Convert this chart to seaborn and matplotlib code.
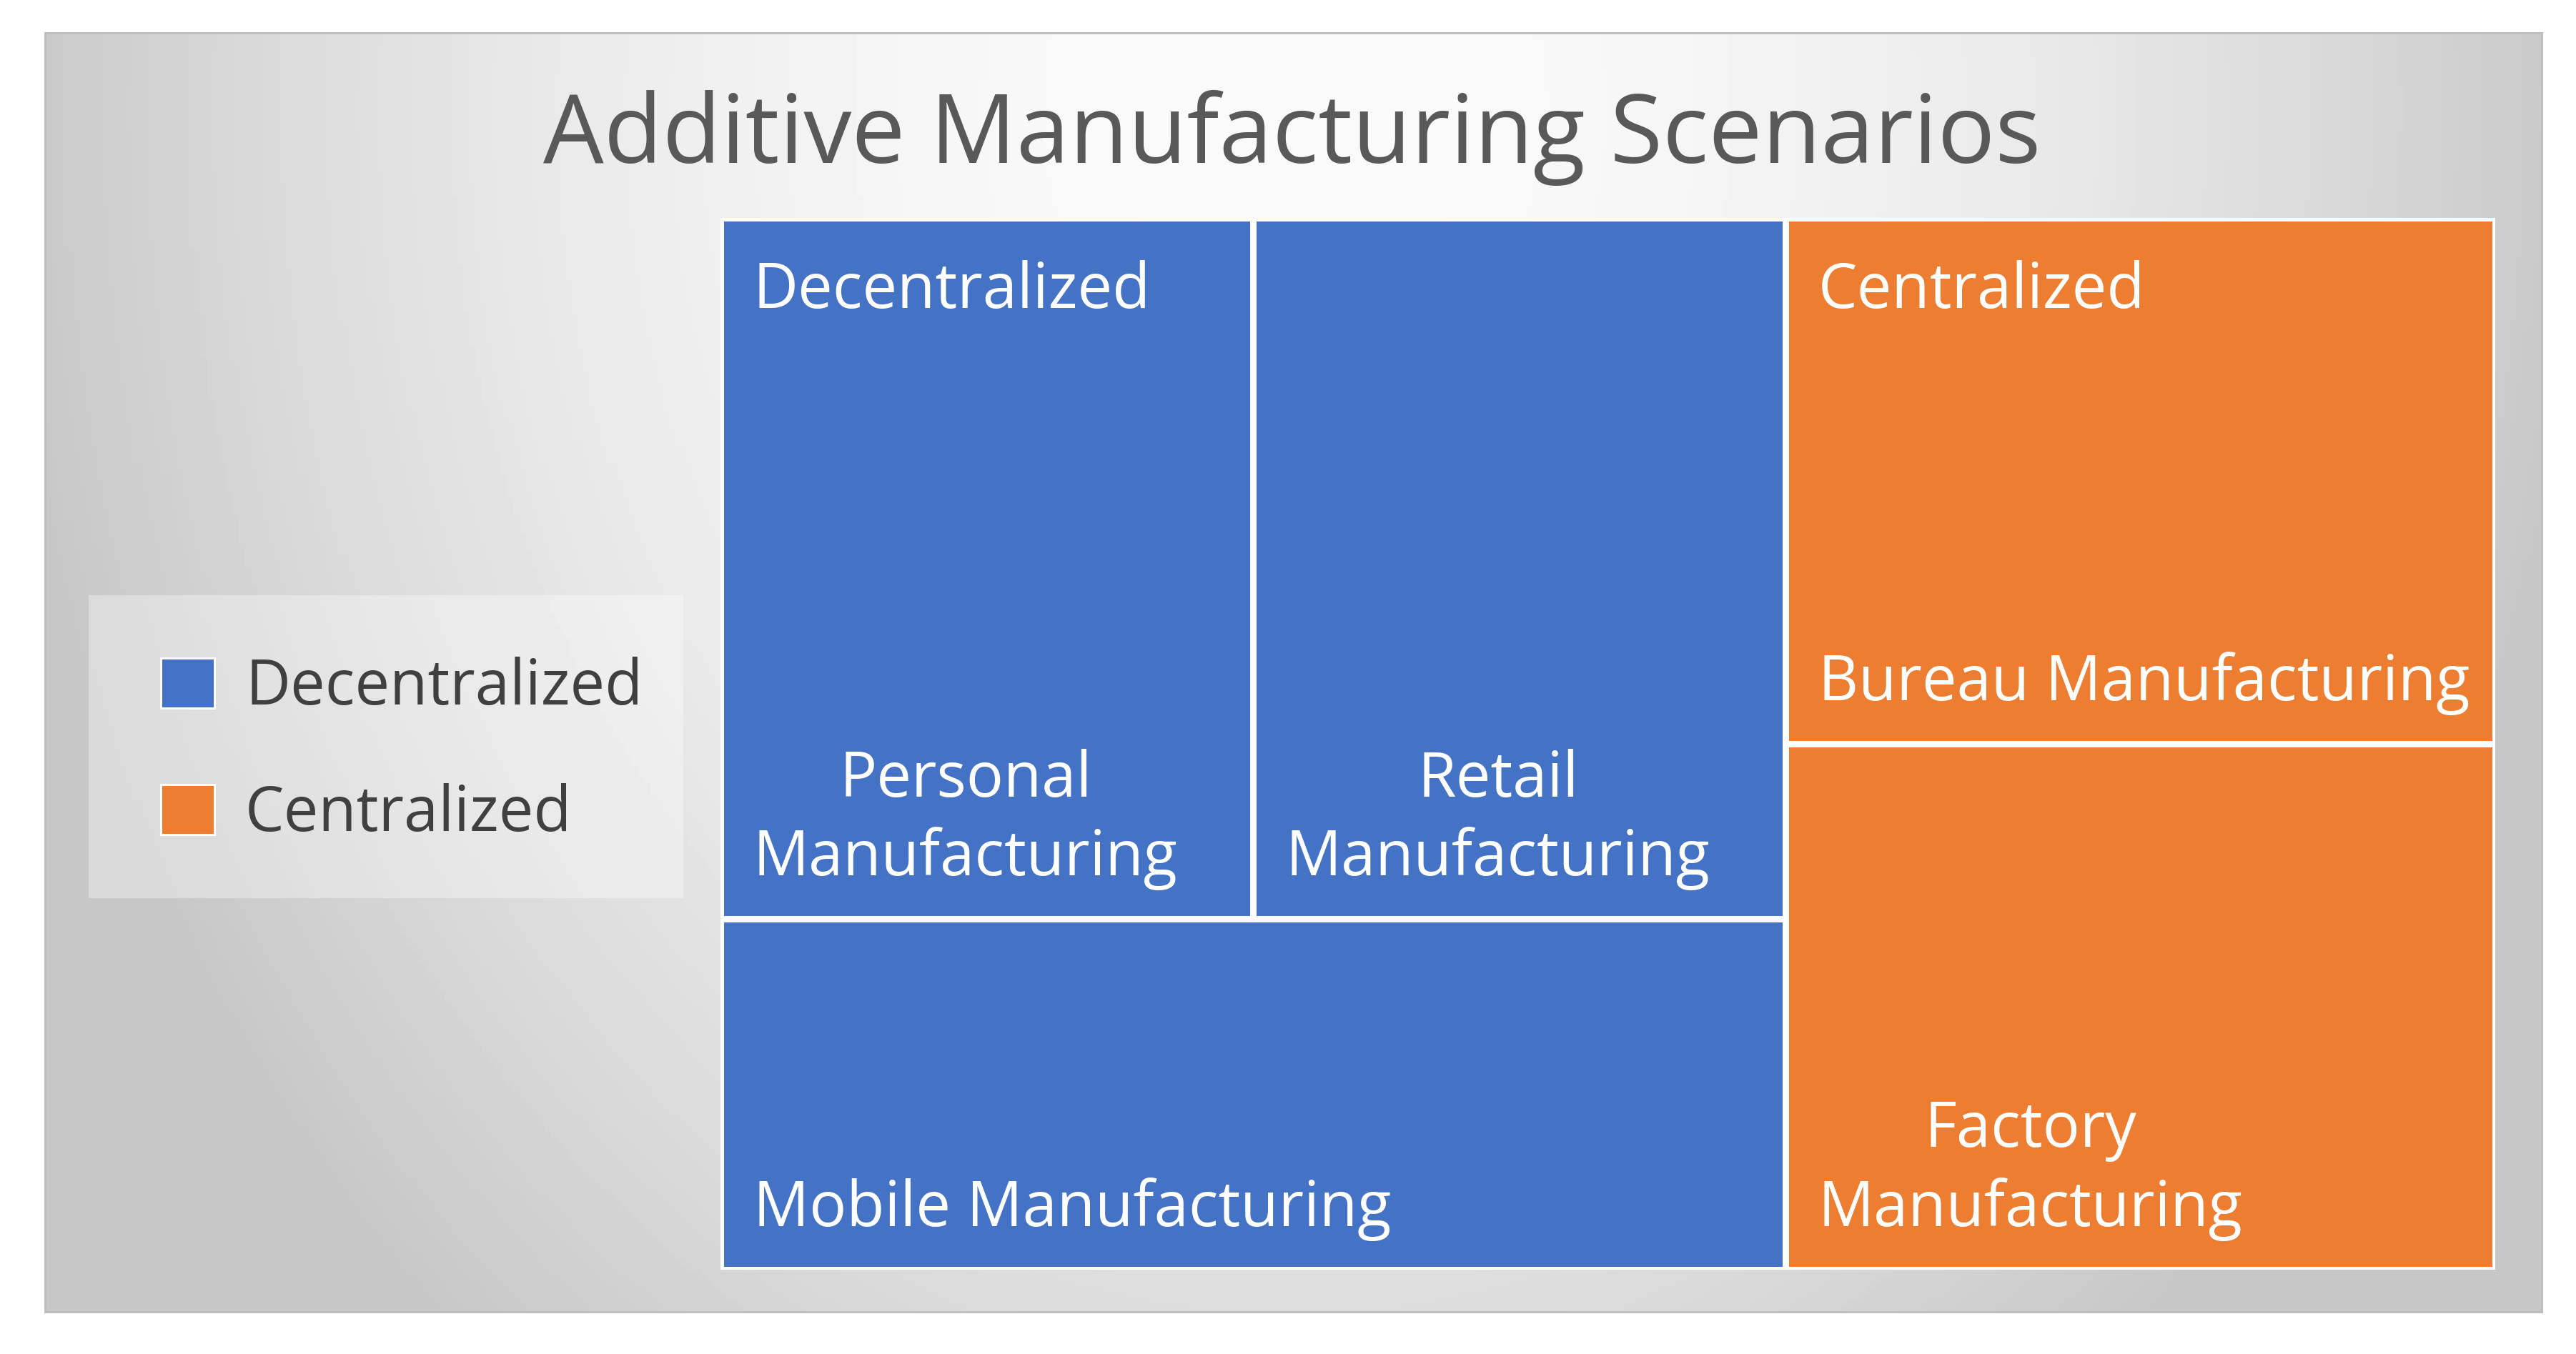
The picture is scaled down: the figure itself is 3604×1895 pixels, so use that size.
import numpy as np
import pandas as pd
import matplotlib.pyplot as plt
import seaborn as sns
from matplotlib.patches import Rectangle, Patch

# data
title = 'Additive Manufacturing Scenarios'
groups = ['Decentralized', 'Centralized']
scenarios = ['Personal\nManufacturing', 'Retail\nManufacturing', 'Mobile Manufacturing',
             'Bureau Manufacturing', 'Factory\nManufacturing']
scenario_group = ['Decentralized', 'Decentralized', 'Decentralized', 'Centralized', 'Centralized']
scenario_value = [1, 1, 1, 1, 1]

df = pd.DataFrame({'group': scenario_group, 'scenario': scenarios, 'value': scenario_value})
group_totals = df.groupby('group', sort=False)['value'].sum().reindex(groups)

sns.set_style('white')
plt.rcParams['font.family'] = ['Open Sans', 'DejaVu Sans']
palette = dict(zip(groups, sns.color_palette(['#4472C4', '#ED7D31'])))

W_PX, H_PX, DPI = 3604, 1895, 100


def pt(p):
    # pixels -> points
    return p * 72 / DPI


def squarify(values, x, y, w, h):
    # strips along the longer side, grown while the worst aspect ratio improves
    areas = [v * w * h / sum(values) for v in values]
    rects = []
    i = 0
    while i < len(areas):
        horizontal = w >= h
        side = w if horizontal else h
        j, prev = i, np.inf
        while j < len(areas):
            cand = areas[i:j + 1]
            thick = sum(cand) / side
            worst = max(max(a / thick ** 2, thick ** 2 / a) for a in cand)
            if worst > prev:
                break
            prev = worst
            j += 1
        row = areas[i:j]
        thick = sum(row) / side
        pos = 0
        for a in row:
            length = a / thick
            if horizontal:
                rects.append((x + pos, y, length, thick))
            else:
                rects.append((x, y + pos, thick, length))
            pos += length
        if horizontal:
            y += thick
            h -= thick
        else:
            x += thick
            w -= thick
        i = j
    return rects


fig = plt.figure(figsize=(W_PX / DPI, H_PX / DPI), dpi=DPI)

# gradient panel
px0, py0, px1, py1 = 63, 46, 3556, 1836
bg = fig.add_axes([px0 / W_PX, 1 - py1 / H_PX, (px1 - px0) / W_PX, (py1 - py0) / H_PX])
bg.set_zorder(-1)
gx, gy = np.meshgrid(np.linspace(px0, px1, 400), np.linspace(py0, py1, 220))
d = np.sqrt((gx - 1810) ** 2 + (0.8 * (gy - 150)) ** 2)
shade = np.clip(250 - 48 * (d / 1750) ** 2, 199, 250)
bg.imshow(shade, cmap='gray', vmin=0, vmax=255, aspect='auto', extent=(0, 1, 1, 0))
bg.set_xticks([])
bg.set_yticks([])
for s in bg.spines.values():
    s.set_color('#bfbfbf')
    s.set_linewidth(pt(3))

fig.text(1808 / W_PX, 1 - 228 / H_PX, title, ha='center', va='baseline',
         fontsize=96.5, color='#595959')

# treemap
tx0, ty0, tx1, ty1 = 1008, 305, 3491, 1777
ax = fig.add_axes([tx0 / W_PX, 1 - ty1 / H_PX, (tx1 - tx0) / W_PX, (ty1 - ty0) / H_PX])
ax.patch.set_alpha(0)
aspect = (tx1 - tx0) / (ty1 - ty0)
ax.set_xlim(0, aspect)
ax.set_ylim(1, 0)
ax.set_axis_off()

label_size = 62.5
group_rects = squarify(group_totals.values, 0, 0, aspect, 1)
for g, (gx0, gy0, gw, gh) in zip(groups, group_rects):
    sub = df[df['group'] == g]
    for name, r in zip(sub['scenario'], squarify(sub['value'].values, gx0, gy0, gw, gh)):
        ax.add_patch(Rectangle((r[0], r[1]), r[2], r[3], facecolor=palette[g],
                               edgecolor='white', linewidth=pt(9)))
        ax.annotate(name, xy=(r[0], r[1] + r[3]), xytext=(pt(46), pt(40)),
                    textcoords='offset points', ha='left', va='bottom',
                    multialignment='center', linespacing=1.32,
                    fontsize=label_size, color='white')
    ax.annotate(g, xy=(gx0, gy0), xytext=(pt(46), -pt(126)), textcoords='offset points',
                ha='left', va='baseline', fontsize=label_size, color='white')

# legend
fig.patches.append(Rectangle((124 / W_PX, 1 - 1257 / H_PX), 832 / W_PX, 424 / H_PX,
                             transform=fig.transFigure, facecolor='white', alpha=0.35,
                             edgecolor='none'))
handles = [Patch(facecolor=palette[g], edgecolor='white', linewidth=pt(3)) for g in groups]
fig.legend(handles, groups, loc='upper left', bbox_to_anchor=(225 / W_PX, 1 - 919 / H_PX),
           frameon=False, fontsize=label_size, borderpad=0, borderaxespad=0,
           handlelength=0.86, handleheight=0.86, handletextpad=0.5, labelspacing=1.03,
           labelcolor='#404040')

fig.savefig('out.png', dpi=DPI, facecolor='white')
